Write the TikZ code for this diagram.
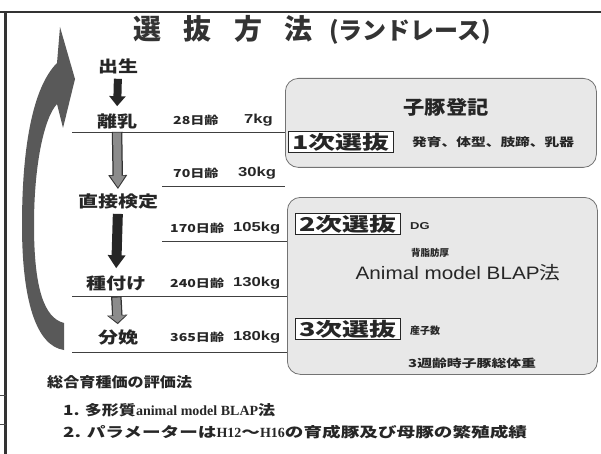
\documentclass[tikz,border=0pt]{standalone}
\usepackage{fontspec}
\usepackage{graphicx}
\newfontfamily\jp{Noto Sans CJK JP}
\newfontfamily\arial{Liberation Sans}
\newfontfamily\tnr{Liberation Serif}
\usetikzlibrary{arrows.meta, positioning, calc}
% 横長の文字（元の図は横に引き伸ばされている）
\newcommand{\sx}[2][1.28]{\scalebox{#1}[1]{#2}}

\begin{document}
\begin{tikzpicture}[
		x=1pt, y=-1pt,
		% 文字と枠のスタイル
		title/.style = {inner sep=0pt, anchor=west, text=black!80, font=\jp\bfseries\fontsize{28}{28}\selectfont},
		stage/.style = {inner sep=0pt, text=black!85, font=\jp\bfseries\fontsize{16}{16}\selectfont},
		age/.style = {anchor=west, inner sep=0pt, text=black!85, font=\jp\bfseries\fontsize{11}{11}\selectfont},
		weight/.style = {anchor=west, inner sep=0pt, text=black!85, font=\arial\bfseries\fontsize{13}{13}\selectfont},
		panel/.style = {draw=black!55, line width=0.8pt, fill=black!9, rounded corners=13pt, anchor=north west},
		selbox/.style = {draw=black!85, line width=1.6pt, fill=white, inner xsep=4pt, inner ysep=1.5pt, text=black!85, font=\jp\bfseries\fontsize{19}{19}\selectfont},
		note/.style = {anchor=west, inner sep=0pt, text=black!85, font=\jp\bfseries\fontsize{11}{11}\selectfont},
		summary/.style = {anchor=west, inner sep=0pt, text=black!85, font=\jp\bfseries\fontsize{14}{14}\selectfont},
		rule/.style = {draw=black!75, line width=0.8pt},
		blkarrow/.style = {draw=black!85, line width=8pt, -{Triangle[width=16pt,length=10pt]}},
		grayout/.style = {draw=black!80, line width=10.5pt},
		grayin/.style = {draw=black!45, line width=8pt}
		]
		\useasboundingbox (0,0) rectangle (601,454);
		
		% --- MARCO DE LA PÁGINA ---
		\draw [line width=1.5pt, black!80] (0,12) -- (601,12);
		\draw [line width=3pt, black!80] (5,12) -- (5,454);
		\draw [line width=0.8pt, black!70] (0,395) -- (6,395);
		\draw [line width=0.8pt, black!70] (0,424) -- (6,424);
		
		% --- TÍTULO ---
		\node [title] (title) at (133,30) {選\hspace{0.8em}抜\hspace{0.8em}方\hspace{0.8em}法\hspace{0.6em}{\fontsize{24}{24}\selectfont(ランドレース)}};
		
		% --- FLECHA CURVA DEL CICLO ---
		\fill [black!65] (64,350) .. controls (36,346) and (22,300) .. (22,225)
			.. controls (22,150) and (32,88) .. (57,63)
			-- (60,27) -- (75,79) -- (63,128) -- (57,104)
			.. controls (44,118) and (34,165) .. (34,225)
			.. controls (34,288) and (44,318) .. (64,323) -- cycle;
		
		% --- ETAPAS ---
		\node [stage] (shusei) at (118,66) {\sx[1.25]{出生}};
		\node [stage] (rinyu) at (117,121) {\sx[1.25]{離乳}};
		\node [stage] (kentei) at (118,201) {\sx[1.25]{直接検定}};
		\node [stage] (tanetsuke) at (116,283) {\sx[1.25]{種付け}};
		\node [stage] (bunben) at (118,337) {\sx[1.25]{分娩}};
		
		% edad y peso de cada etapa
		\node [age] (age28) at (173,120) {\sx{28日齢}};
		\node [weight] (w7) at (244,120) {\sx{7kg}};
		\node [age] (age70) at (173,173) {\sx{70日齢}};
		\node [weight] (w30) at (238,173) {\sx{30kg}};
		\node [age] (age170) at (170,228) {\sx{170日齢}};
		\node [weight] (w105) at (233,228) {\sx{105kg}};
		\node [age] (age240) at (170,283) {\sx{240日齢}};
		\node [weight] (w130) at (233,283) {\sx{130kg}};
		\node [age] (age365) at (170,337) {\sx{365日齢}};
		\node [weight] (w180) at (233,337) {\sx{180kg}};
		
		% --- PANELES DE SELECCIÓN ---
		\node [panel, minimum width=311pt, minimum height=89pt] (panel1) at (285,78) {};
		\node [panel, minimum width=310pt, minimum height=177pt] (panel2) at (287,197) {};
		
		% líneas de la escala de tiempo hasta los paneles
		\draw [rule] (72,132) -- (panel1.west |- 0,132);
		\draw [rule] (162,186) -- (panel1.west |- 0,186);
		\draw [rule] (162,241) -- (panel2.west |- 0,241);
		\draw [rule] (72,296) -- (panel2.west |- 0,296);
		\draw [rule] (72,352) -- (panel2.west |- 0,352);
		
		% panel 1
		\node [inner sep=0pt, text=black!85, font=\jp\bfseries\fontsize{19}{19}\selectfont] (toroku) at (446,107) {\sx[1.12]{子豚登記}};
		\node [selbox] (sel1) at (341,142) {\sx[1.42]{1次選抜}};
		\node [note, font=\jp\bfseries\fontsize{11.5}{11.5}\selectfont] (hatsuiku) at (412,142) {\sx{発育、体型、肢蹄、乳器}};
		
		% panel 2
		\node [selbox] (sel2) at (348,224) {\sx[1.42]{2次選抜}};
		\node [note, font=\arial\bfseries\fontsize{10}{10}\selectfont] (dg) at (410,226) {\sx[1.3]{DG}};
		\node [note, font=\jp\bfseries\fontsize{9.5}{9.5}\selectfont] (sebo) at (411,253) {背脂肪厚};
		\node [inner sep=0pt, text=black!85, font=\arial\fontsize{18}{18}\selectfont] (blap) at (458,273) {\sx[1.15]{Animal model BLAP{\jp 法}}};
		\node [selbox] (sel3) at (348,329) {\sx[1.42]{3次選抜}};
		\node [note, font=\jp\bfseries\fontsize{10}{10}\selectfont] (sanshi) at (410,331) {産子数};
		\node [note] (taiju) at (408,363) {\sx[1.35]{3週齢時子豚総体重}};
		
		% --- FLECHAS ENTRE ETAPAS ---
		\draw [blkarrow, shorten <=5pt, shorten >=7pt] (shusei.south) -- (rinyu.north);
		\draw [grayout, -{Triangle[width=18pt,length=14pt]}, shorten <=3pt, shorten >=4pt] (rinyu.south) -- (kentei.north);
		\draw [grayin, -{Triangle[width=14.5pt,length=11.5pt]}, shorten <=3.8pt, shorten >=5.8pt] (rinyu.south) -- (kentei.north);
		\draw [blkarrow, line width=10pt, -{Triangle[width=17pt,length=13pt]}, shorten <=5pt, shorten >=7pt] (kentei.south) -- (tanetsuke.north);
		\draw [grayout, -{Triangle[width=20pt,length=9pt]}, shorten <=6pt, shorten >=5pt] (tanetsuke.south) -- (bunben.north);
		\draw [grayin, -{Triangle[width=16.5pt,length=7pt]}, shorten <=6.8pt, shorten >=6.5pt] (tanetsuke.south) -- (bunben.north);
		
		% --- MÉTODO DE EVALUACIÓN ---
		\node [summary] (sogo) at (47,382) {\sx[1.15]{総合育種価の評価法}};
		\node [summary] (hoho1) at (63,410) {\sx[1.22]{1. 多形質}{\tnr\bfseries\fontsize{14}{14}\selectfont animal model BLAP}\sx[1.22]{法}};
		\node [summary] (hoho2) at (63,432) {\sx[1.33]{2. パラメーターは}{\tnr\bfseries\fontsize{14}{14}\selectfont H12}\sx[1.33]{～}{\tnr\bfseries\fontsize{14}{14}\selectfont H16}\sx[1.33]{の育成豚及び母豚の繁殖成績}};
		
	\end{tikzpicture}
\end{document}
